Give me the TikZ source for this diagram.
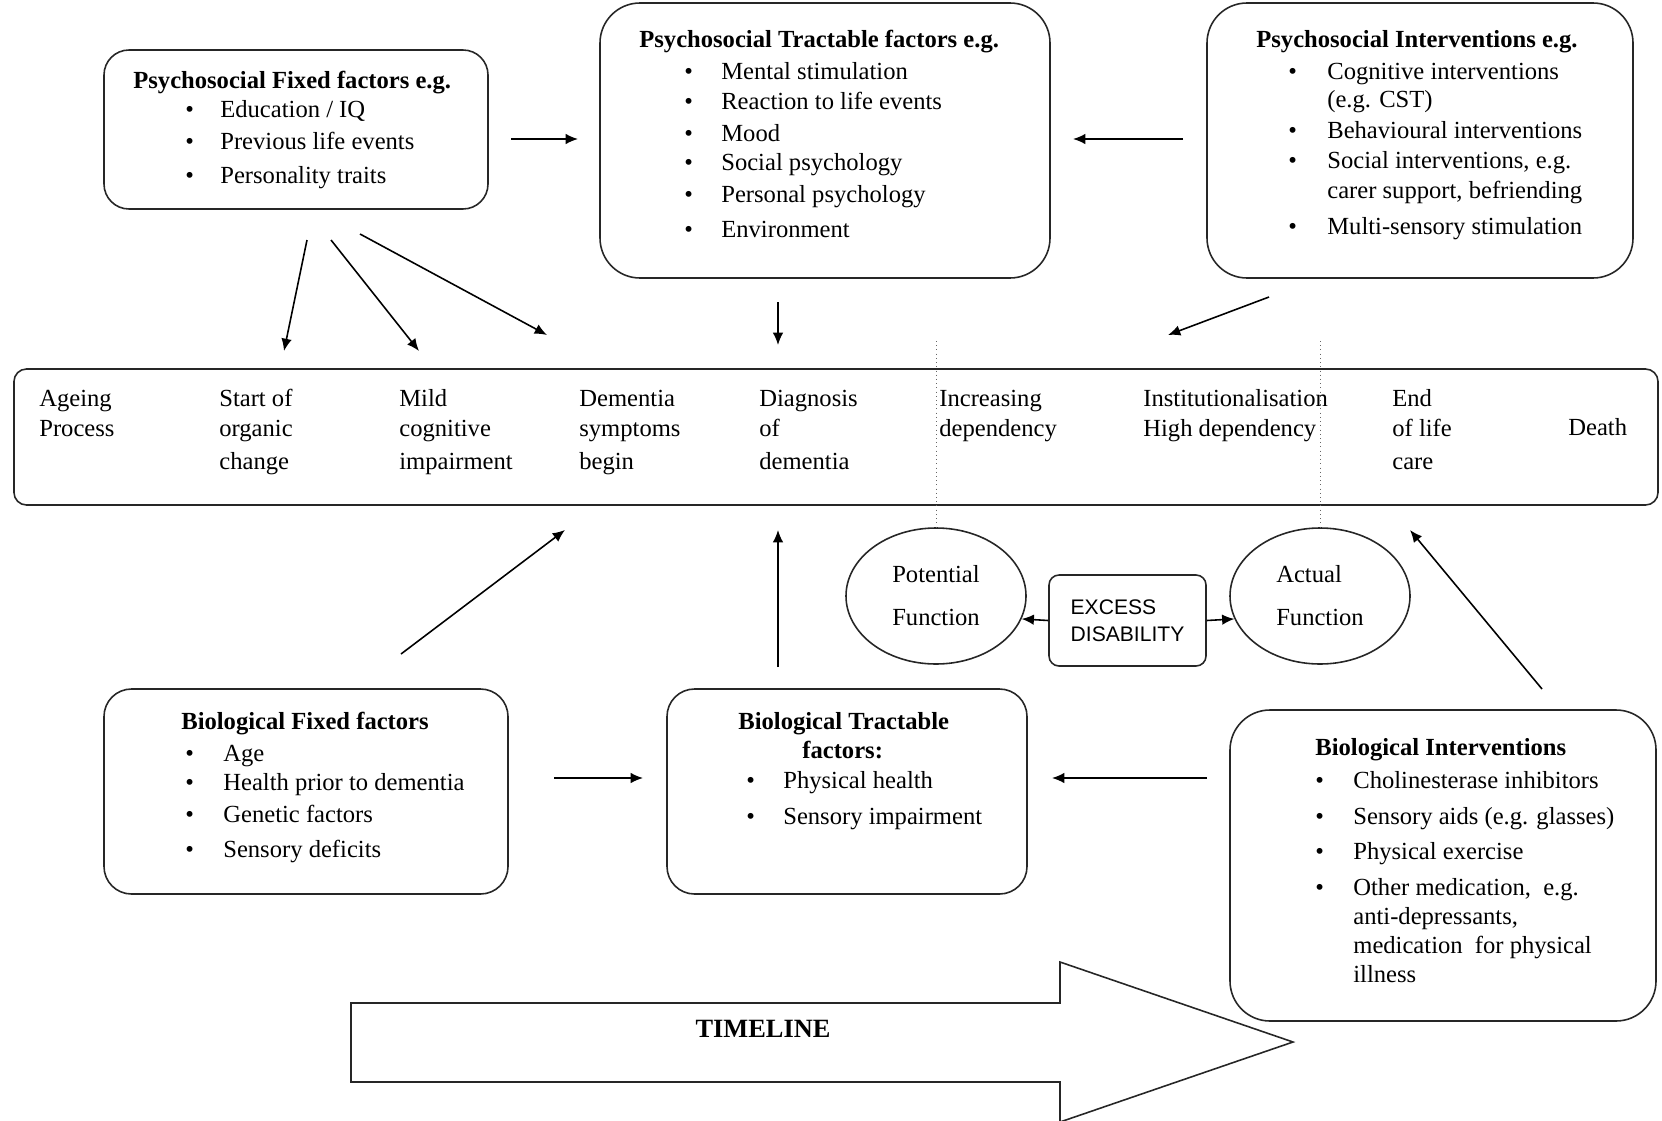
\documentclass[tikz,border=0pt]{standalone}
\usepackage{fontspec}
\setmainfont{Liberation Serif}
\newfontfamily\sansf{Liberation Sans}
\usetikzlibrary{arrows.meta,shapes.geometric}
\newlength\px
\setlength\px{0.2mm}
\newcommand\bul[3]{\hspace*{#1\px}\makebox[#2\px][l]{\textbullet}#3}
\newcommand\cont[2]{\hspace*{#1\px}#2}
\newcommand\txtlines[1]{\begin{tabular}[t]{@{}l@{}}#1\end{tabular}}

\begin{document}
\begin{tikzpicture}[x=0.2mm, y=-0.2mm, >={Latex[length=7pt,width=6pt]},
    box/.style={draw=black!85, line width=0.9pt, rounded corners=#1},
    box/.default=5mm,
    txt/.style={anchor=base west, inner sep=0pt, font=\fontsize{14}{17.1}\selectfont},
    oval/.style={ellipse, draw=black!85, line width=0.9pt, minimum width=36mm, minimum height=27.2mm,
        inner sep=0pt, align=left, font=\fontsize{14}{17.1}\selectfont},
    arr/.style={->, line width=0.9pt}]
    \useasboundingbox (0,0) rectangle (1662,1120);

    % psychosocial row
    \node[box, minimum width=76.8mm, minimum height=31.8mm] (pf) at (296,129.5) {};
    \node[txt] (pftxt) at (133,88) {\txtlines{\textbf{Psychosocial Fixed\ factors e.g.}\\[-1\px]
        \bul{52}{35}{Education / IQ}\\[2\px]
        \bul{52}{35}{Previous life events}\\[4\px]
        \bul{52}{35}{Personality traits}}};

    \node[box=8mm, minimum width=90mm, minimum height=55mm] (pt) at (825,140.5) {};
    \node[txt] (pttxt) at (639,47) {\txtlines{\textbf{Psychosocial Tractable factors e.g.}\\[2\px]
        \bul{45}{37}{Mental stimulation}\\
        \bul{45}{37}{Reaction to life events}\\[2\px]
        \bul{45}{37}{Mood}\\[-1\px]
        \bul{45}{37}{Social psychology}\\[2\px]
        \bul{45}{37}{Personal psychology}\\[5\px]
        \bul{45}{37}{Environment}}};

    \node[box=8mm, minimum width=85.2mm, minimum height=55mm] (pi) at (1420,140.5) {};
    \node[txt] (pitxt) at (1256,47) {\txtlines{\textbf{Psychosocial Interventions e.g.}\\[2\px]
        \bul{32}{39}{Cognitive interventions}\\[-2\px]
        \cont{71}{(e.g. CST)}\\[1\px]
        \bul{32}{39}{Behavioural interventions}\\
        \bul{32}{39}{Social interventions, e.g.}\\
        \cont{71}{carer support, befriending}\\[6\px]
        \bul{32}{39}{Multi-sensory stimulation}}};

    % timeline band
    \node[box=2.5mm, minimum width=328.8mm, minimum height=27.2mm] (band) at (836,437) {};
    \node[txt] (s1) at (39,406) {\txtlines{Ageing\\Process}};
    \node[txt] (s2) at (219,406) {\txtlines{Start of\\organic\\[3\px]change}};
    \node[txt] (s3) at (399,406) {\txtlines{Mild\\cognitive\\[3\px]impairment}};
    \node[txt] (s4) at (579,406) {\txtlines{Dementia\\symptoms\\[3\px]begin}};
    \node[txt] (s5) at (759,406) {\txtlines{Diagnosis\\of\\[3\px]dementia}};
    \node[txt] (s6) at (939,406) {\txtlines{Increasing\\dependency}};
    \node[txt] (s7) at (1143,406) {\txtlines{Institutionalisation\\High dependency}};
    \node[txt] (s8) at (1392,406) {\txtlines{End\\of life\\[3\px]care}};
    \node[txt] (s9) at (1568,435) {Death};

    % function
    \node[oval] (pot) at (936,596) {Potential\\[13\px]Function};
    \node[oval] (act) at (1320,596) {Actual\\[13\px]Function};
    \node[box=2mm, minimum width=31.4mm, minimum height=18.2mm, align=left,
        font=\sansf\fontsize{12}{15.5}\selectfont] (ex) at (1127.5,620.5) {EXCESS\\DISABILITY};
    \coordinate (potdot) at (936,341);
    \coordinate (actdot) at (1320,341);
    \draw[dotted, black!60] (potdot) -- (pot.north);
    \draw[dotted, black!60] (actdot) -- (act.north);
    \draw[arr] (ex.west) -- (pot.-15);
    \draw[arr] (ex.east) -- (act.195);

    % biological row
    \node[box=5.5mm, minimum width=80.8mm, minimum height=41mm] (bf) at (306,791.5) {};
    \node[txt] (bftxt) at (181,729) {\txtlines{\textbf{Biological Fixed factors}\\[2\px]
        \bul{4}{38}{Age}\\[-1\px]
        \bul{4}{38}{Health prior to dementia}\\[2\px]
        \bul{4}{38}{Genetic factors}\\[5\px]
        \bul{4}{38}{Sensory deficits}}};

    \node[box=5.5mm, minimum width=72mm, minimum height=41mm] (bt) at (847,791.5) {};
    \node[txt] (bttxt) at (738,729) {\txtlines{\textbf{Biological Tractable}\\[-1\px]
        \cont{64}{\textbf{factors:}}\\
        \bul{8}{37}{Physical health}\\[6\px]
        \bul{8}{37}{Sensory impairment}}};

    \node[box=8mm, minimum width=85.2mm, minimum height=62.2mm] (bi) at (1443,865.5) {};
    \node[txt] (bitxt) at (1315,755) {\txtlines{\textbf{Biological Interventions}\\[3\px]
        \bul{0}{38}{Cholinesterase inhibitors}\\[6\px]
        \bul{0}{38}{Sensory aids (e.g. glasses)}\\[5\px]
        \bul{0}{38}{Physical exercise}\\[6\px]
        \bul{0}{38}{Other medication,\ \ e.g.}\\[-1\px]
        \cont{38}{anti-depressants,}\\[-1\px]
        \cont{38}{medication\ \ for physical}\\[-1\px]
        \cont{38}{illness}}};

    % arrow ends
    \coordinate (a1) at (511,139);  \coordinate (a2) at (578,139);
    \coordinate (b1) at (1183,139); \coordinate (b2) at (1073,139);
    \coordinate (c1) at (307,240);  \coordinate (c2) at (284,351);
    \coordinate (d1) at (331,240);  \coordinate (d2) at (419,351);
    \coordinate (e1) at (360,234);  \coordinate (e2) at (547,335);
    \coordinate (f1) at (778,302);  \coordinate (f2) at (778,345);
    \coordinate (g1) at (1269,297); \coordinate (g2) at (1168,335);
    \coordinate (h1) at (401,654);  \coordinate (h2) at (565,530);
    \coordinate (i1) at (778,667);  \coordinate (i2) at (778,530);
    \coordinate (j1) at (1542,689); \coordinate (j2) at (1410,530);
    \coordinate (k1) at (554,778);  \coordinate (k2) at (643,778);
    \coordinate (l1) at (1207,778); \coordinate (l2) at (1052,778);
    \foreach \p in {a,b,c,d,e,f,g,h,i,j,k,l}
        \draw[arr] (\p1) -- (\p2);

    % timeline arrow
    \draw[line width=0.9pt, draw=black!85] (351,1003) -- (1060,1003) -- (1060,962) -- (1293,1042)
        -- (1060,1122) -- (1060,1082) -- (351,1082) -- cycle;
    \node[font=\fontsize{15}{18}\selectfont\bfseries] (timeline) at (763,1029) {TIMELINE};
\end{tikzpicture}
\end{document}
